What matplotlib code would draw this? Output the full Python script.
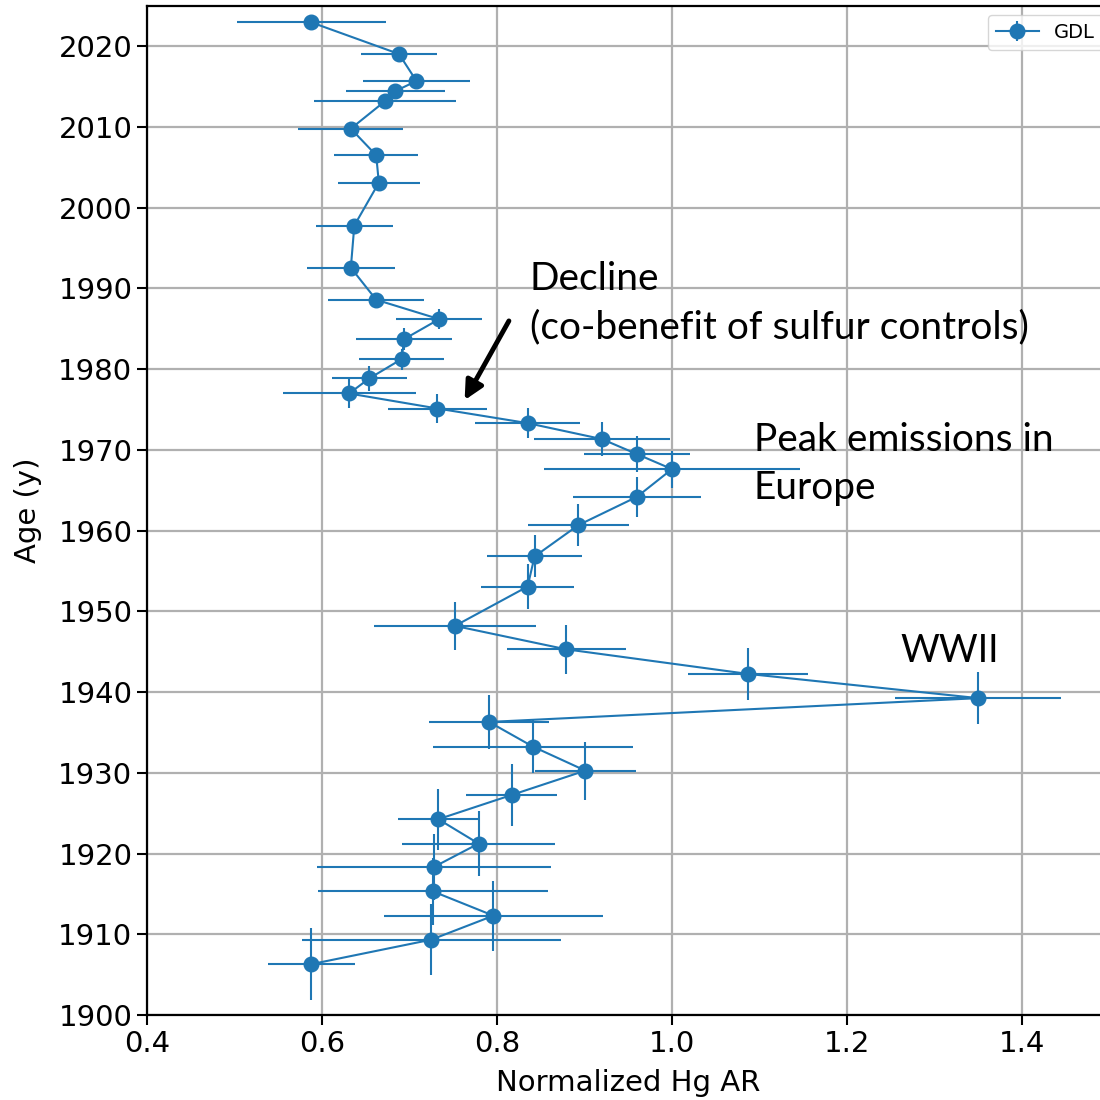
import matplotlib
matplotlib.use('Agg')
import matplotlib.pyplot as plt

# GDL core: normalized Hg accumulation rate vs. age
age = [2022.96, 2019.05, 2015.7, 2014.46, 2013.2, 2009.8, 2006.5, 2003.1, 1997.8, 1992.57,
       1988.6, 1986.2, 1983.73, 1981.25, 1978.85, 1976.99, 1975.13, 1973.32, 1971.34, 1969.48,
       1967.62, 1964.19, 1960.68, 1956.8, 1953.07, 1948.2, 1945.3, 1942.25, 1939.25, 1936.3,
       1933.25, 1930.27, 1927.26, 1924.25, 1921.23, 1918.34, 1915.3, 1912.3, 1909.33, 1906.3]
hg_ar = [0.588, 0.688, 0.708, 0.684, 0.672, 0.633, 0.662, 0.665, 0.637, 0.633,
         0.662, 0.734, 0.694, 0.691, 0.654, 0.631, 0.732, 0.835, 0.920, 0.960,
         1.000, 0.960, 0.893, 0.843, 0.835, 0.752, 0.879, 1.087, 1.350, 0.791,
         0.841, 0.901, 0.817, 0.733, 0.779, 0.728, 0.727, 0.796, 0.725, 0.588]
hg_err = [0.085, 0.0435, 0.0615, 0.057, 0.081, 0.060, 0.048, 0.047, 0.044, 0.050,
          0.055, 0.049, 0.055, 0.049, 0.043, 0.076, 0.057, 0.060, 0.078, 0.061,
          0.146, 0.073, 0.058, 0.054, 0.053, 0.093, 0.068, 0.069, 0.095, 0.069,
          0.114, 0.058, 0.052, 0.046, 0.087, 0.134, 0.131, 0.125, 0.148, 0.050]
age_err = [0.3, 0.3, 0.4, 0.4, 0.4, 0.5, 0.5, 0.5, 0.6, 0.7,
           0.9, 1.25, 1.35, 1.3, 1.6, 1.75, 1.8, 1.9, 2.1, 2.2,
           2.3, 2.5, 2.6, 2.6, 2.8, 3.0, 3.0, 3.2, 3.2, 3.4,
           3.3, 3.6, 3.8, 3.8, 4.0, 4.05, 4.2, 4.35, 4.4, 4.5]

x_ticks = [0.4, 0.6, 0.8, 1.0, 1.2, 1.4]
y_ticks = [1900, 1910, 1920, 1930, 1940, 1950, 1960, 1970, 1980, 1990, 2000, 2010, 2020]

fig = plt.figure(figsize=(11, 11), dpi=100)
ax = fig.add_axes([0.1336, 0.0773, 0.875, 0.9173])

ax.errorbar(hg_ar, age, xerr=hg_err, yerr=age_err, fmt='-o', color='#1f77b4',
            markersize=10.5, linewidth=1.5, elinewidth=1.5, label='GDL', zorder=3)

ax.set_xlim(0.4, 1.5)
ax.set_ylim(1900, 2025)
ax.set_xticks(x_ticks)
ax.set_yticks(y_ticks)
ax.grid(True, color='#b0b0b0', linewidth=1.6)
ax.set_axisbelow(True)
ax.tick_params(labelsize=21, length=7, width=1.5)
for s in ax.spines.values():
    s.set_linewidth(1.6)
ax.set_xlabel('Normalized Hg AR', fontsize=21, labelpad=8)
ax.set_ylabel('Age (y)', fontsize=21, labelpad=12)

ax.legend(loc='upper left', bbox_to_anchor=(0.874, 0.991), borderaxespad=0,
          fontsize=14, handlelength=2.2, framealpha=0.8)

note_font = ['Lato', 'DejaVu Sans']
ax.text(0.8377, 1988.2, 'Decline\n(co-benefit of sulfur controls)', fontsize=28,
        family=note_font, va='center', ha='left', linespacing=1.42)
ax.text(1.0937, 1968.3, 'Peak emissions in\nEurope', fontsize=28,
        family=note_font, va='center', ha='left', linespacing=1.42)
ax.text(1.2606, 1945.1, 'WWII', fontsize=27, family=note_font, va='center', ha='left')
ax.annotate('', xy=(0.7615, 1975.87), xytext=(0.8152, 1986.28),
            arrowprops=dict(arrowstyle='-|>', color='black', lw=3.5, mutation_scale=28))

fig.savefig('out.png', dpi=100)
